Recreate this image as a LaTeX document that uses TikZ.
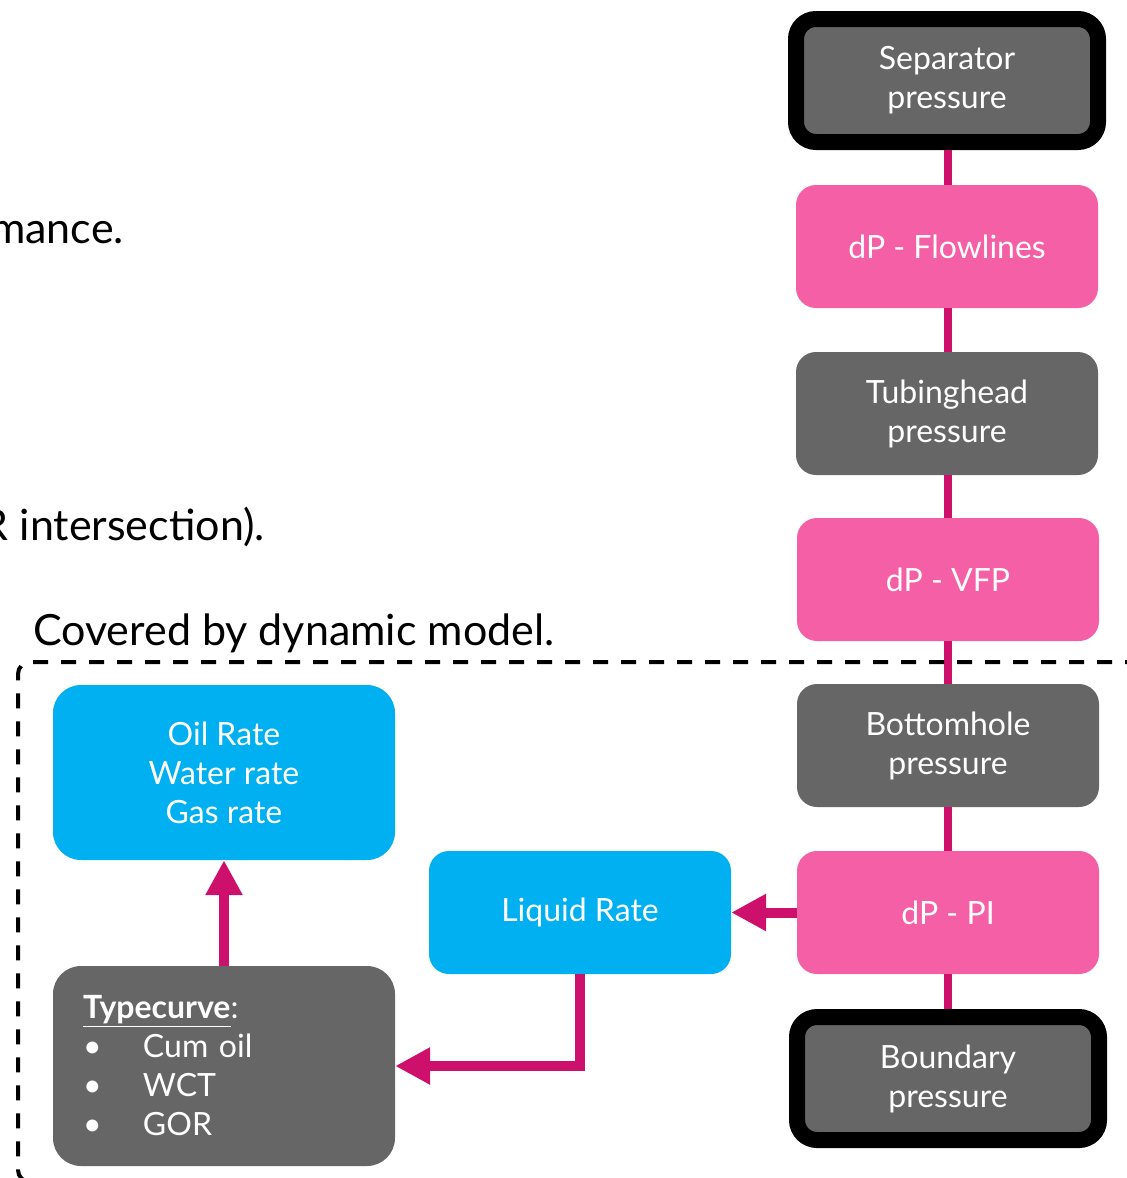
\documentclass[tikz,border=0pt]{standalone}
\usepackage{fontspec}
\setmainfont{Lato}
\usetikzlibrary{arrows.meta,positioning}
\definecolor{boxgray}{HTML}{666666}
\definecolor{boxpink}{HTML}{F45FA5}
\definecolor{boxcyan}{HTML}{00B0F0}
\definecolor{linkmag}{HTML}{CC106C}

\begin{document}
\begin{tikzpicture}[
  x=1pt, y=-1pt,
  box/.style={rounded corners=20pt, align=center, text=white, inner sep=0pt,
    minimum width=302pt, minimum height=123pt, font=\fontsize{32}{39}\selectfont},
  greybox/.style={box, fill=boxgray},
  pinkbox/.style={box, fill=boxpink},
  bluebox/.style={box, fill=boxcyan},
  endbox/.style={greybox, draw=black, line width=16pt},
  link/.style={draw=linkmag, line width=8pt},
  flow/.style={-{Triangle[length=35pt,width=35pt]}, draw=linkmag, line width=10pt},
  body/.style={font=\fontsize{43}{50}\selectfont, inner sep=0pt}
]
\useasboundingbox (0,0) rectangle (1127,1178);
\clip (0,0) rectangle (1127,1178);

% slide text, cut by the frame
\node[body, anchor=base east] (perf) at (124,243) {performance.};
\node[body, anchor=base east] (ipr) at (265,540) {IPR intersection).};
\node[body, anchor=base west] (cov) at (33,645) {Covered by dynamic model.};

% pressure chain
\node[endbox] (sep) at (947,80.5) {Separator\\pressure};
\node[pinkbox] (flowl) at (947,246.5) {dP - Flowlines};
\node[greybox] (thp) at (947,413.5) {Tubinghead\\pressure};
\node[pinkbox] (vfp) at (948,579.5) {dP - VFP};
\node[greybox] (bhp) at (948,745.5) {Bottomhole\\pressure};
\node[pinkbox] (pi) at (948,912.5) {dP - PI};
\node[endbox] (bnd) at (948,1078.5) {Boundary\\pressure};

\draw[link] (sep.south -| bnd) -- (flowl.north -| bnd);
\draw[link] (flowl.south -| bnd) -- (thp.north -| bnd);
\draw[link] (thp.south -| bnd) -- (vfp);
\draw[link] (vfp) -- (bhp);
\draw[link] (bhp) -- (pi);
\draw[link] (pi) -- (bnd);

% rates
\node[bluebox, minimum width=342pt, minimum height=175pt, rounded corners=28pt] (rates) at (224,772.5)
  {Oil Rate\\Water rate\\Gas rate};
\node[bluebox] (liq) at (580,912.5) {Liquid Rate};
\node[greybox, minimum width=342pt, minimum height=200pt, rounded corners=28pt,
  align=left, text width=282pt, inner xsep=30pt] (tc) at (224,1066)
  {\underline{\textbf{Typecurve}}:\\
   \makebox[60pt][l]{\textbullet}Cum oil\\
   \makebox[60pt][l]{\textbullet}WCT\\
   \makebox[60pt][l]{\textbullet}GOR};

\draw[flow] (pi) -- (liq);
\draw[flow] (liq) |- (tc);
\draw[flow] (tc) -- (rates);

% dynamic model frame
\draw[line width=4pt, dash pattern=on 15pt off 13pt, rounded corners=12pt]
  (1140,662) -- (18,662) -- (18,1182) -- (1140,1182);

\end{tikzpicture}
\end{document}
